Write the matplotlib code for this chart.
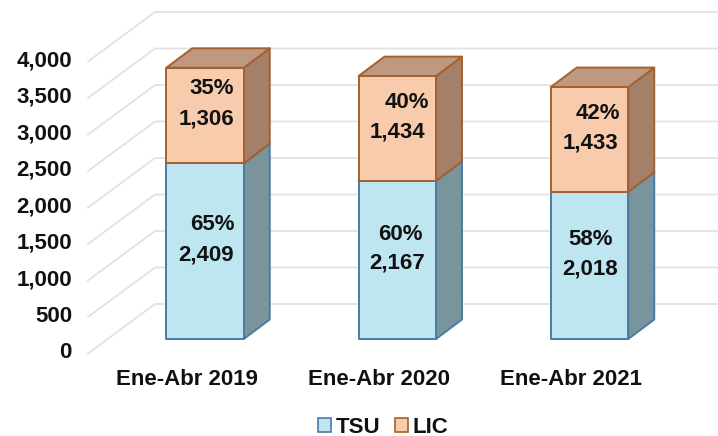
import matplotlib
matplotlib.use("Agg")
import matplotlib.pyplot as plt
from matplotlib.patches import Polygon, Patch

categories = ["Ene-Abr 2019", "Ene-Abr 2020", "Ene-Abr 2021"]
tsu = [2409, 2167, 2018]
lic = [1306, 1434, 1433]
tsu_pct = ["65%", "60%", "58%"]
lic_pct = ["35%", "40%", "42%"]
ticks = [0, 500, 1000, 1500, 2000, 2500, 3000, 3500, 4000]

W, H = 718, 436
PX_X = 192.25          # pixels per category
PX_Y = 0.073           # pixels per value unit
X0, Y0 = 205.0, 339.0  # pixel position of first bar centre / baseline
INK = "#111111"

plt.rcParams["font.family"] = ["Liberation Sans", "DejaVu Sans"]
fig = plt.figure(figsize=(W / 100, H / 100), dpi=100)
ax = fig.add_axes([0, 0, 1, 1])
ax.set_xlim(-X0 / PX_X, (W - X0) / PX_X)
ax.set_ylim((Y0 - H) / PX_Y, Y0 / PX_Y)
ax.axis("off")

dx_px = lambda p: p / PX_X
dy_px = lambda p: p / PX_Y

# wall gridlines
wall_left = dx_px(88 - X0)
wall_back = dx_px(155 - X0)
wall_right = dx_px(718 - X0)
front_off = dy_px(339 - 353.5)
back_off = dy_px(339 - 304)
for t in ticks:
    ax.plot([wall_left, wall_back, wall_right],
            [t + front_off, t + back_off, t + back_off],
            color="#E2E2E2", lw=1.3, solid_joinstyle="miter", zorder=1)
    ax.text(dx_px(72 - X0), t + front_off + dy_px(3.5), f"{t:,}",
            ha="right", va="center_baseline", fontsize=16, fontweight="bold",
            color=INK, zorder=5)

# 3D-looking stacked bars
half = dx_px(38.75)
ddx = dx_px(26)
ddy = dy_px(19.5)
TSU_STYLE = dict(front="#BDE6F0", side="#7A949B", top="#8FAEB6", edge="#4A7BA6")
LIC_STYLE = dict(front="#F8CBAD", side="#A58068", top="#BF9880", edge="#A5602F")


def box(i, base, height, st):
    l, r = i - half, i + half
    b, t = base, base + height
    kw = dict(edgecolor=st["edge"], lw=1.4, joinstyle="round", zorder=3)
    ax.add_patch(Polygon([(r, b), (r + ddx, b + ddy), (r + ddx, t + ddy), (r, t)],
                         facecolor=st["side"], **kw))
    ax.add_patch(Polygon([(l, t), (r, t), (r + ddx, t + ddy), (l + ddx, t + ddy)],
                         facecolor=st["top"], **kw))
    ax.add_patch(Polygon([(l, b), (r, b), (r, t), (l, t)],
                         facecolor=st["front"], **kw))


for i in range(len(categories)):
    box(i, 0, tsu[i], TSU_STYLE)
    box(i, tsu[i], lic[i], LIC_STYLE)

# data labels: (pixel offsets from the segment centre)
pct_dx_lic, pct_dx_tsu = [7, 10, 8], [7, 3, 1]
val_dx_lic, val_dx_tsu = [1, 0, 1], [1, 0, 1]
pct_up = [29, 28, 28]
txt = dict(ha="center", va="center_baseline", fontsize=16, fontweight="bold",
           color=INK, textcoords="offset pixels", zorder=6)
for i in range(len(categories)):
    m_t = tsu[i] / 2
    m_l = tsu[i] + lic[i] / 2
    ax.annotate(f"{tsu[i]:,}", (i, m_t), xytext=(val_dx_tsu[i], -1), **txt)
    ax.annotate(tsu_pct[i], (i, m_t), xytext=(pct_dx_tsu[i], pct_up[i]), **txt)
    ax.annotate(f"{lic[i]:,}", (i, m_l), xytext=(val_dx_lic[i], -1), **txt)
    ax.annotate(lic_pct[i], (i, m_l), xytext=(pct_dx_lic[i], pct_up[i]), **txt)
    ax.text(i + dx_px(-18), dy_px(339 - 377), categories[i], ha="center", va="center_baseline",
            fontsize=16, fontweight="bold", color=INK)

handles = [Patch(facecolor=TSU_STYLE["front"], edgecolor=TSU_STYLE["edge"], lw=1.2, label="TSU"),
           Patch(facecolor=LIC_STYLE["front"], edgecolor=LIC_STYLE["edge"], lw=1.2, label="LIC")]
leg = ax.legend(handles=handles, ncol=2, frameon=False, fontsize=16,
                loc="center", bbox_to_anchor=(383 / W, 1 - 427 / H),
                handlelength=0.6, handleheight=0.6, handletextpad=0.2,
                columnspacing=0.65, borderpad=0, borderaxespad=0)
for t in leg.get_texts():
    t.set_fontweight("bold")
    t.set_color(INK)

fig.savefig("out.png", dpi=100)
